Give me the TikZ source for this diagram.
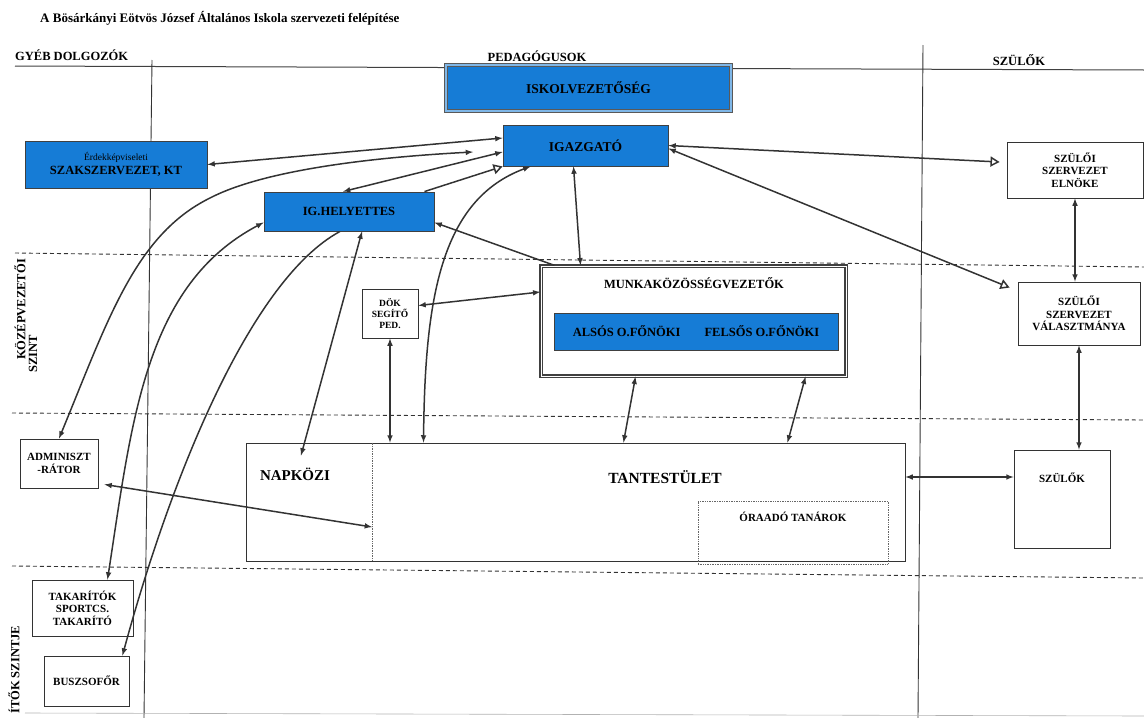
\documentclass[tikz,border=0pt]{standalone}
\usepackage{fontspec}
\setmainfont{Liberation Serif}
\usetikzlibrary{arrows}
\usetikzlibrary{positioning}
\definecolor{boxblue}{RGB}{22,124,214}
\tikzset{lbl/.style = {font=\bfseries\fontsize{12.5}{13.5}\selectfont, align=center, inner sep=0}}
\tikzset{lblsm/.style = {font=\bfseries\fontsize{11}{12.5}\selectfont, align=center, inner sep=0}}
\tikzset{bluebox/.style = {draw=black!75, line width=0.9pt, fill=boxblue, inner sep=0}}
\tikzset{plainbox/.style = {draw=black!80, line width=0.9pt, fill=white, inner sep=0}}
\tikzset{dotbox/.style = {draw=black!60, densely dotted, line width=0.7pt, inner sep=0}}
\tikzset{lvl/.style = {dash pattern=on 4pt off 3pt, line width=0.9pt, black!80}}
\tikzset{conn/.style = {line width=1.5pt, black!80}}
\tikzset{arr/.style = {conn, -latex}}
\tikzset{arr2/.style = {conn, latex-latex}}

\begin{document}
\begin{tikzpicture}[x=1pt, y=-1pt]
  \useasboundingbox (0,0) rectangle (1144,718);

  % headings
  \node[lbl, font=\bfseries\fontsize{13}{14}\selectfont, anchor=west] (title) at (40,18) {A Bösárkányi Eötvös József Általános Iskola szervezeti felépítése};
  \node[lbl, anchor=west] (hdother) at (15,55) {GYÉB DOLGOZÓK};
  \node[lbl] (hdped) at (537,56) {PEDAGÓGUSOK};
  \node[lbl] (hdpar) at (1019,60) {SZÜLŐK};
  \node[lbl, rotate=90, anchor=west] (lvlmid) at (20,360) {KÖZÉPVEZETŐI};
  \node[lbl, rotate=90, anchor=west] (lvlmidb) at (33,373) {SZINT};
  \node[lbl, rotate=90, anchor=west] (lvllow) at (14,714) {ÍTŐK SZINTJE};

  % columns and levels
  \draw[line width=1pt, black!75] (15,66) -- (1144,70);
  \draw[line width=0.9pt, black!80] (152,60) -- (144,718);
  \draw[line width=0.9pt, black!80] (923,45) -- (918,718);
  \draw[lvl] (15,253) -- (1144,267);
  \draw[lvl] (12,413) -- (1144,420);
  \draw[lvl] (12,566) -- (1144,578);
  \draw[black!30, line width=0.6pt] (25,713) -- (1144,716);

  % boxes
  \node[bluebox, lbl, font=\bfseries\fontsize{13.5}{14}\selectfont, draw=black!65, double=boxblue!55!white, double distance=2pt, minimum width=285, minimum height=46] (iskv) at (588.5,88) {ISKOLVEZETŐSÉG};
  \node[bluebox, lbl, font=\bfseries\fontsize{13.5}{14}\selectfont, minimum width=165, minimum height=41] (igazgato) at (585.5,145.5) {IGAZGATÓ};
  \node[bluebox, lbl, minimum width=182, minimum height=47] (szak) at (116,164.5) {{\mdseries\fontsize{9.5}{12}\selectfont Érdekképviseleti}\\SZAKSZERVEZET, KT};
  \node[bluebox, lbl, minimum width=170, minimum height=39] (ighely) at (349,211.5) {IG.HELYETTES};
  \node[plainbox, lblsm, font=\bfseries\fontsize{9.5}{11}\selectfont, minimum width=56, minimum height=49] (dok) at (390,313.5) {DÖK\\SEGÍTŐ\\PED.};
  \node[plainbox, line width=1.4pt, draw=black!75, double=white, double distance=0.8pt, minimum width=305, minimum height=110] (munka) at (693.5,321) {};
  \node[lbl] (munkalbl) at (694,283) {MUNKAKÖZÖSSÉGVEZETŐK};
  \node[bluebox, lbl, minimum width=284, minimum height=37] (ofonok) at (696,331.5) {ALSÓS O.FŐNÖKI\hspace{24pt}FELSŐS O.FŐNÖKI};
  \node[plainbox, lblsm, minimum width=136, minimum height=56] (elnoke) at (1075,170) {SZÜLŐI\\SZERVEZET\\ELNÖKE};
  \node[plainbox, lblsm, minimum width=122, minimum height=63] (valaszt) at (1079,313.5) {SZÜLŐI\\SZERVEZET\\VÁLASZTMÁNYA};
  \node[plainbox, lblsm, minimum width=78, minimum height=49] (admin) at (59,463.5) {ADMINISZT\\-RÁTOR};
  \node[plainbox, minimum width=659, minimum height=118] (tant) at (575.5,502) {};
  \coordinate (napdiv) at (372,527);
  \draw[densely dotted, black!60, line width=0.7pt] (tant.north -| napdiv) -- (tant.south -| napdiv);
  \node[lbl, font=\bfseries\fontsize{15}{16}\selectfont] (napkozi) at (295,474) {NAPKÖZI};
  \node[lbl, font=\bfseries\fontsize{15.5}{16}\selectfont] (tantlbl) at (665,477) {TANTESTÜLET};
  \node[dotbox, minimum width=190, minimum height=63] (oraado) at (793,532.5) {};
  \node[lblsm, below=11pt of oraado.north] (oralbl) {ÓRAADÓ TANÁROK};
  \node[plainbox, minimum width=96, minimum height=98] (szulok) at (1062,499) {};
  \node[lblsm, below=23pt of szulok.north] (szuloklbl) {SZÜLŐK};
  \node[plainbox, lblsm, minimum width=101, minimum height=56] (takar) at (82.5,608) {TAKARÍTÓK\\SPORTCS.\\TAKARÍTÓ};
  \node[plainbox, lblsm, minimum width=85, minimum height=50] (busz) at (86.5,681) {BUSZSOFŐR};

  % connectors
  \coordinate (admend) at (473,152);
  \draw[arr2] (szak.east) -- ([yshift=7.5pt]igazgato.west);
  \draw[arr2] ([xshift=-6pt]ighely.north) -- ([yshift=-6.5pt]igazgato.west);
  \draw[conn, -open triangle 60] ([xshift=-10pt]ighely.north east) -- (igazgato.south west);
  \draw[arr2] (admin.north) .. controls (108,320) and (135,235) .. (210,198) .. controls (260,172) and (360,158) .. (admend);
  \draw[arr] ([xshift=14pt]munka.north west) -- ([yshift=-11pt]ighely.east);
  \draw[arr2] ([xshift=-12pt]igazgato.south) -- ([xshift=-113pt]munka.north);
  \draw[arr2] ([xshift=-152pt]tant.north) .. controls (425,300) and (440,200) .. ([xshift=-55pt]igazgato.south);
  \draw[arr2] ([yshift=8pt]dok.east) -- ([yshift=29pt]munka.west);
  \draw[arr2] (dok.south) -- (dok.south |- tant.north);
  \draw[arr2] ([xshift=13pt]ighely.south) -- ([xshift=6pt,yshift=12pt]napkozi.north);
  \draw[arr] ([xshift=-9pt]ighely.south) .. controls (250,280) and (170,480) .. ([xshift=-7pt]busz.north east);
  \draw[arr2] ([xshift=25pt]takar.north) .. controls (132,420) and (145,285) .. ([yshift=-11pt]ighely.west);
  \draw[arr2] ([xshift=6pt,yshift=4pt]admin.south east) -- (napdiv);
  \draw[conn, latex-open triangle 60] (igazgato.east) -- ([xshift=-7pt,yshift=8pt]elnoke.west);
  \draw[conn, latex-open triangle 60] ([yshift=-3pt]igazgato.east) -- ([xshift=-8pt,yshift=-6pt]valaszt.north west);
  \draw[arr2] (elnoke.south) -- (elnoke.south |- valaszt.north);
  \draw[arr2] (valaszt.south) -- (valaszt.south |- szulok.north);
  \draw[arr2] ([yshift=25pt]tant.east) -- ([yshift=25pt]tant.east -| szulok.west);
  \draw[arr2] ([xshift=-58pt]munka.south) -- ([xshift=48pt]tant.north);
  \draw[arr2] ([xshift=112pt]munka.south) -- ([xshift=212pt]tant.north);
\end{tikzpicture}
\end{document}
